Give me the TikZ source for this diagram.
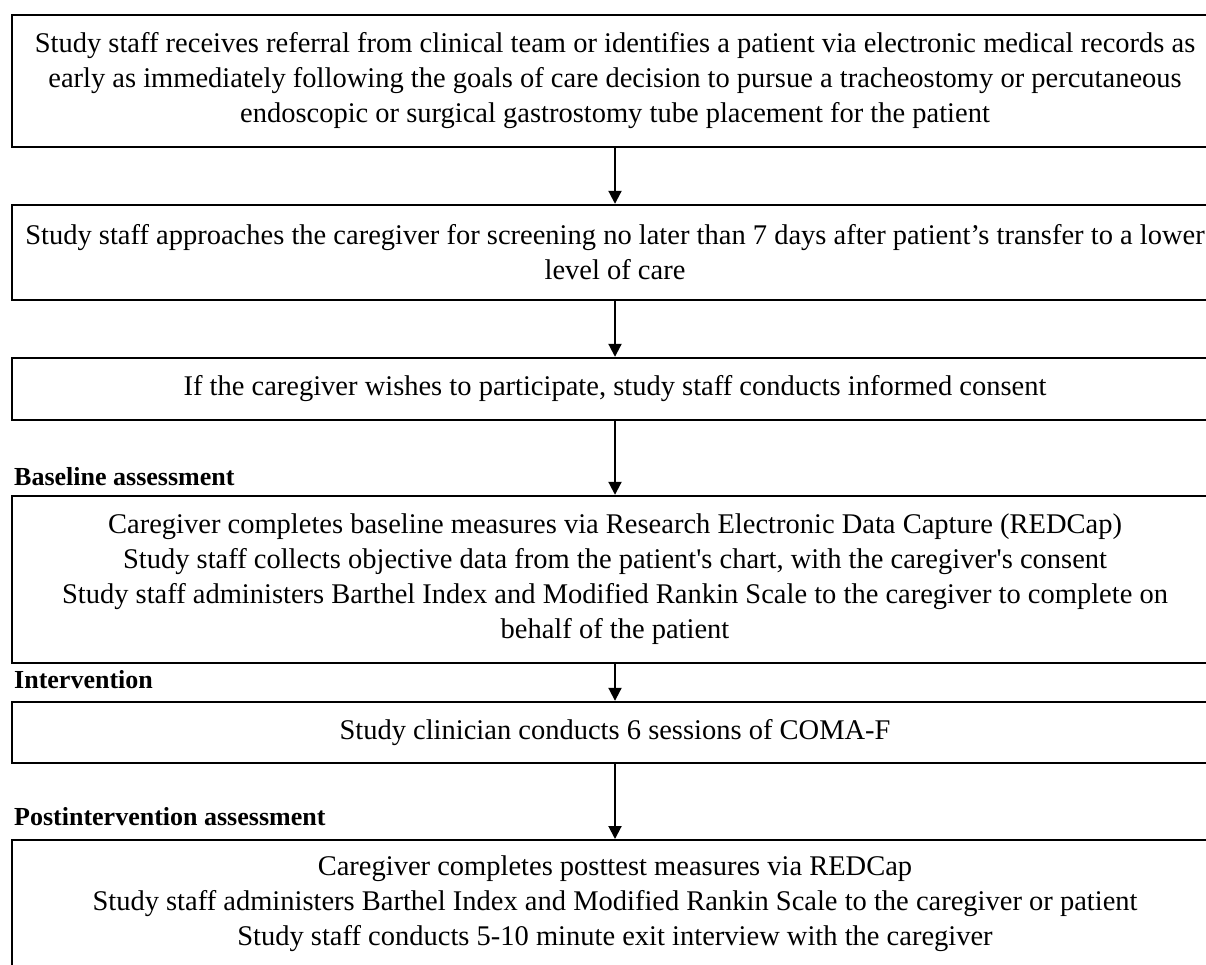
\documentclass[tikz,border=0pt]{standalone}
\usepackage{fontspec}
\setmainfont{Liberation Serif}
\usetikzlibrary{arrows.meta}

\tikzset{
  stepbox/.style={draw, line width=2.4pt, minimum width=1206pt, align=center, inner sep=0pt, font=\fontsize{28.5}{35}\selectfont},
  phase/.style={anchor=base west, inner sep=0pt, font=\fontsize{26}{30}\selectfont\bfseries},
  flow/.style={line width=2pt, -{Triangle[length=13pt,width=13pt]}}
}

\begin{document}
\begin{tikzpicture}[x=1pt,y=-1pt]
		%%%%% START %%%%%
		
		\useasboundingbox (0,0) rectangle (1206,965);
		\clip (0,0) rectangle (1206,965);
		
		\node[stepbox, minimum height=132pt] (referral) at (615,81) {Study staff receives referral from clinical team or identifies a patient via electronic medical records as\\early as immediately following the goals of care decision to pursue a tracheostomy or percutaneous\\endoscopic or surgical gastrostomy tube placement for the patient};
		
		\node[stepbox, minimum height=95pt] (screening) at (615,252.5) {Study staff approaches the caregiver for screening no later than 7 days after patient’s transfer to a lower\\level of care};
		
		\node[stepbox, minimum height=62pt] (consent) at (615,389) {If the caregiver wishes to participate, study staff conducts informed consent};
		
		\node[phase] (baseline) at (14,485) {Baseline assessment};
		\node[stepbox, minimum height=167pt] (measures) at (615,579.5) {Caregiver completes baseline measures via Research Electronic Data Capture (REDCap)\\Study staff collects objective data from the patient\textquotesingle s chart, with the caregiver\textquotesingle s consent\\Study staff administers Barthel Index and Modified Rankin Scale to the caregiver to complete on\\behalf of the patient};
		
		\node[phase] (intervention) at (14,688) {Intervention};
		\node[stepbox, minimum height=61pt] (sessions) at (615,732.5) {Study clinician conducts 6 sessions of COMA-F};
		
		\node[phase] (postint) at (14,825) {Postintervention assessment};
		\node[stepbox, anchor=north, inner ysep=16pt, text depth=80pt] (posttest) at (615,839) {Caregiver completes posttest measures via REDCap\\Study staff administers Barthel Index and Modified Rankin Scale to the caregiver or patient\\Study staff conducts 5-10 minute exit interview with the caregiver};
		
		\draw[flow] (referral) -- (screening);
		\draw[flow] (screening) -- (consent);
		\draw[flow] (consent) -- (measures);
		\draw[flow] (measures) -- (sessions);
		\draw[flow] (sessions) -- (posttest);
		
		%%%%% END %%%%%
\end{tikzpicture}
\end{document}
